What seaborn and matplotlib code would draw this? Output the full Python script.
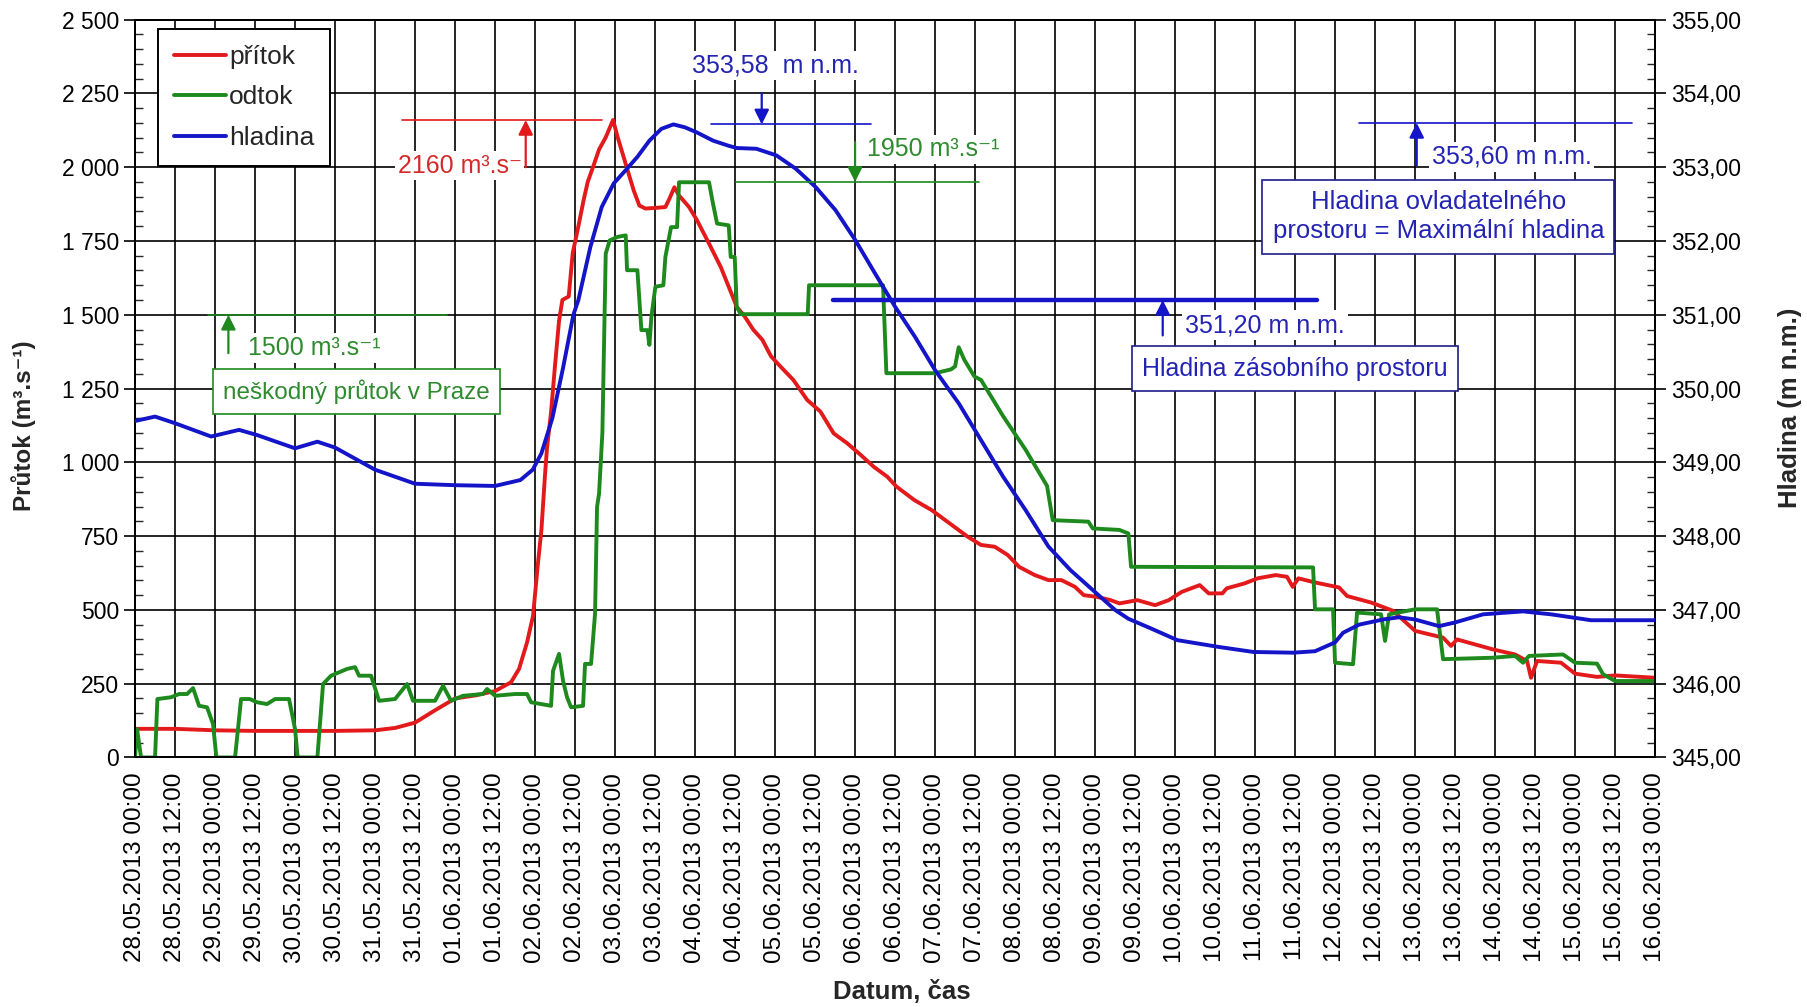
import matplotlib
matplotlib.use("Agg")
import matplotlib.pyplot as plt
from matplotlib.ticker import MultipleLocator, FuncFormatter
from matplotlib.lines import Line2D
import pandas as pd
import seaborn as sns

# ---------------- data (time in hours since 28.05.2013 00:00) ----------------
pritok_t = [0, 12, 24, 36, 48, 60, 72, 78, 84, 90, 96, 102, 108, 112.8, 115.2, 117.6, 119.4,
            120.8, 121.9, 123, 123.6, 124.8, 126, 127.2, 128.2, 130.1, 131.3, 133, 134.6, 135.8,
            137.5, 139.2, 141.2, 143.4, 144.8, 147.2, 149.6, 151.3, 153.1, 156, 159.1, 160.3,
            161.8, 163.2, 166.2, 168.6, 172.2, 175.7, 178.1, 180.5, 182.9, 185.5, 188.2, 190.8,
            193.6, 197.5, 201.6, 205.6, 209.6, 213.6, 217.7, 221.6, 225.7, 228.4, 233.8, 239,
            244.4, 249.8, 253.8, 257.9, 261.8, 265.2, 269.9, 274, 277.9, 282, 284.6, 288.6,
            292.7, 295.3, 300.7, 306, 310.1, 314, 319.4, 322.1, 326.2, 327.5, 332.9, 336.8,
            342.2, 345.6, 347.3, 349, 354, 361.2, 363.6, 370.8, 377.4, 384, 392.4, 394.8, 396.6,
            402, 407.4, 414, 417.6, 418.8, 420.6, 427.8, 432, 438.6, 444, 456]
pritok_q = [97, 97, 92, 90, 90, 90, 92, 100, 118, 160, 200, 210, 225, 255, 300, 390, 480,
            650, 770, 960, 1050, 1170, 1330, 1480, 1550, 1562, 1709, 1800, 1890, 1950,
            2004, 2060, 2101, 2160, 2101, 2011, 1921, 1870, 1860, 1862, 1865, 1893,
            1932, 1904, 1865, 1820, 1741, 1662, 1595, 1527, 1494, 1449, 1415, 1359,
            1325, 1279, 1212, 1172, 1098, 1065, 1025, 985, 951, 918, 872, 838,
            793, 748, 720, 714, 686, 646, 618, 601, 601, 578, 550, 544,
            533, 522, 533, 516, 533, 561, 584, 556, 556, 573, 590, 607,
            618, 612, 578, 607, 593, 576, 547, 525, 497, 429, 406, 378, 400,
            383, 366, 349, 327, 270, 327, 321, 284, 273, 278, 270]

odtok_t = [0, 0.6, 1.8, 6, 6.7, 10.8, 13.2, 15.6, 17.4, 19.2, 21.6, 23.4, 24.4, 30, 31.8, 34.4,
           36.6, 39.6, 42, 46.2, 48, 48.8, 54.7, 56.4, 58.8, 63.6, 66, 67.2, 70.8, 73.2, 78,
           81.6, 83.4, 90, 92.4, 94.8, 98.4, 104.4, 105.6, 108, 114, 117.6, 118.8, 124.8,
           125.4, 127.2, 128.4, 129.6, 130.8, 134.4, 135, 136.8, 138, 138.6, 139.2, 140.2,
           141.2, 142.4, 144.8, 147.2, 147.6, 150.7, 151.3, 151.9, 153.7, 154.3, 154.9,
           156.1, 158.5, 159.1, 160.8, 162.6, 163.2, 172.2, 173.2, 174.6, 178.1, 178.7,
           179.9, 180.5, 181.7, 201.8, 202.2, 224.4, 225.4, 240, 244.8, 246, 247.1, 248.8,
           251.8, 253.8, 260.5, 267.2, 273.6, 275.3, 286, 287.3, 295.3, 298, 298.8, 353.4,
           354, 359.4, 360, 365.4, 366.6, 373.8, 375, 376.2, 384, 390.6, 392.4, 407.4, 414,
           416.4, 418.2, 428.4, 432, 438.6, 440.4, 444, 456]
odtok_q = [0, 96, 0, 0, 198, 204, 215, 215, 235, 175, 170, 113, 0, 0, 198, 198,
           187, 181, 198, 198, 96, 0, 0, 249, 277, 300, 306, 277, 277, 192, 198,
           249, 192, 192, 243, 192, 209, 215, 232, 209, 215, 215, 187, 175,
           294, 351, 260, 204, 170, 175, 317, 317, 487, 849, 894, 1100,
           1707, 1752, 1764, 1769, 1651, 1651, 1550, 1448, 1448, 1398, 1493,
           1595, 1600, 1696, 1797, 1797, 1949, 1949, 1887, 1809, 1803, 1696,
           1696, 1527, 1502, 1502, 1600, 1600, 1302, 1302, 1315, 1325, 1390, 1347,
           1291, 1279, 1155, 1042, 920, 804, 799, 776, 771, 759, 646, 644,
           502, 502, 321, 316, 491, 485, 395, 485, 502, 502, 333, 338, 344,
           321, 344, 349, 321, 318, 282, 259, 259]

hladina_t = [0, 6, 12, 22.8, 31.2, 36.6, 48, 54.7, 60, 72, 84, 96, 108, 115.6, 119.3, 121.9,
             125.2, 128.4, 131.5, 133, 136.6, 140, 143.6, 147.2, 150.7, 154.3, 157.9, 161.5,
             165, 168.6, 173.4, 178.1, 180.5, 186.4, 192.4, 198.2, 204.2, 210.1, 216.1, 222,
             228, 234, 240, 247.1, 253.8, 260.5, 267.2, 274, 280.6, 287.3, 294, 298, 304.7,
             312.7, 324.8, 335.5, 347.4, 354, 360, 362.4, 367.2, 374.4, 379.2, 384, 391.2,
             396, 404.4, 416.4, 424.8, 436.8, 456]
hladina_h = [349.56, 349.62, 349.53, 349.35, 349.44, 349.37, 349.19, 349.28, 349.20, 348.90,
             348.71, 348.69, 348.68, 348.76, 348.90, 349.12, 349.60, 350.28, 351.00, 351.20,
             351.92, 352.46, 352.78, 352.96, 353.14, 353.36, 353.52, 353.58, 353.54, 353.47,
             353.36, 353.29, 353.26, 353.25, 353.16, 352.98, 352.73, 352.42, 352.01, 351.56,
             351.11, 350.70, 350.25, 349.80, 349.30, 348.80, 348.35, 347.86, 347.54, 347.27,
             347.00, 346.88, 346.75, 346.59, 346.50, 346.43, 346.42, 346.44, 346.56, 346.69,
             346.80, 346.87, 346.90, 346.87, 346.78, 346.83, 346.94, 346.98, 346.94, 346.86,
             346.86]

series_names = ["přítok", "odtok", "hladina"]
tick_labels = list(pd.date_range("2013-05-28 00:00", periods=39, freq="12h").strftime("%d.%m.%Y %H:%M"))

q_pritok_max = 2160
q_odtok_max = 1950
q_neskodny = 1500
h_max_reached = 353.58
h_zasobni = 351.20
h_ovladatelny = 353.60

# ---------------- style ----------------
sns.set_theme(style="white")
FONT = ["Liberation Sans", "DejaVu Sans"]
plt.rcParams["font.family"] = FONT
plt.rcParams["axes.edgecolor"] = "black"

RED = "#e31a1c"
GREEN = "#1e8a1e"
BLUE = "#1414c8"
RED_T = "#d42a2a"
GREEN_T = "#2e8b2e"
BLUE_T = "#2424b4"

fig = plt.figure(figsize=(18.08, 10.07), dpi=100)
ax = fig.add_axes([0.0747, 0.2478, 0.8407, 0.7327])
ax2 = ax.twinx()

df_p = pd.DataFrame({"t": pritok_t, "q": pritok_q})
df_o = pd.DataFrame({"t": odtok_t, "q": odtok_q})
df_h = pd.DataFrame({"t": hladina_t, "h": hladina_h})

sns.lineplot(data=df_p, x="t", y="q", ax=ax, color=RED, lw=2.8, estimator=None, sort=False, zorder=3)
sns.lineplot(data=df_o, x="t", y="q", ax=ax, color=GREEN, lw=2.8, estimator=None, sort=False, zorder=3)
sns.lineplot(data=df_h, x="t", y="h", ax=ax2, color=BLUE, lw=2.8, estimator=None, sort=False, zorder=3)

# axes limits & ticks
ax.set_xlim(0, 456)
ax.set_ylim(0, 2500)
ax2.set_ylim(345, 355)
ax.set_xticks(range(0, 457, 12))
ax.set_xticklabels(tick_labels, rotation=90, fontsize=17.5, va="top")
ax.yaxis.set_major_locator(MultipleLocator(250))
ax.yaxis.set_minor_locator(MultipleLocator(50))
ax.yaxis.set_major_formatter(FuncFormatter(lambda v, p: f"{v:,.0f}".replace(",", " ")))
ax2.yaxis.set_major_locator(MultipleLocator(1))
ax2.yaxis.set_minor_locator(MultipleLocator(0.2))
ax2.yaxis.set_major_formatter(FuncFormatter(lambda v, p: f"{v:.2f}".replace(".", ",")))

ax.tick_params(axis="y", which="major", direction="out", length=8, width=1.2, labelsize=16.5, colors="black")
ax.tick_params(axis="y", which="minor", direction="in", length=6, width=1.0, left=True)
ax.tick_params(axis="x", which="major", direction="out", length=7, width=1.2, colors="black", pad=4)
ax2.tick_params(axis="y", which="major", direction="out", length=8, width=1.2, labelsize=16.5, colors="black")
ax2.tick_params(axis="y", which="minor", direction="in", length=6, width=1.0, right=True)

ax.grid(True, which="major", color="black", lw=1.2)
ax2.grid(False)
for a in (ax, ax2):
    for s in a.spines.values():
        s.set_color("black")
        s.set_linewidth(1.4)
ax.set_xlabel("")
ax.set_ylabel("")
ax2.set_ylabel("")

fig.text(0.013, 0.577, "Průtok (m³.s⁻¹)", rotation=90, ha="center", va="center",
         fontsize=17.5, fontweight="bold", family=FONT)
fig.text(0.99, 0.595, "Hladina (m n.m.)", rotation=90, ha="center", va="center",
         fontsize=18.5, fontweight="bold", family=FONT)
fig.text(0.499, 0.015, "Datum, čas", ha="center", va="center",
         fontsize=18.5, fontweight="bold", family=FONT)

# ---------------- annotations ----------------
T = ax.transData
arrow_kw = dict(arrowstyle="-|>", lw=1.6, mutation_scale=22, shrinkA=0, shrinkB=0)
box_txt = dict(facecolor="white", edgecolor="none", pad=2)
FS = 18

# 2160 inflow peak
ax2.plot([80, 140], [q_pritok_max, q_pritok_max], color=RED, lw=1.2, transform=T, zorder=4)
ax2.annotate("", xy=(117.2, q_pritok_max), xytext=(117.2, 2000), xycoords=T, textcoords=T,
             arrowprops=dict(color=RED, **arrow_kw), zorder=4)
ax2.text(116, 2005, "2160 m³.s⁻", color=RED_T, fontsize=FS, ha="right", va="center",
         transform=T, bbox=box_txt, zorder=5)

# 1950 outflow max
ax2.plot([180.2, 253.2], [q_odtok_max, q_odtok_max], color=GREEN, lw=1.2, transform=T, zorder=4)
ax2.annotate("", xy=(216, q_odtok_max), xytext=(216, 2085), xycoords=T, textcoords=T,
             arrowprops=dict(color=GREEN, **arrow_kw), zorder=4)
ax2.text(219.5, 2060, "1950 m³.s⁻¹", color=GREEN_T, fontsize=FS, ha="left", va="center",
         transform=T, bbox=box_txt, zorder=5)

# 353,58 max level
ax2.plot([172.8, 220.8], [h_max_reached, h_max_reached], color=BLUE, lw=1.2, zorder=4)
ax2.annotate("", xy=(188, h_max_reached), xytext=(188, 354.0), arrowprops=dict(color=BLUE, **arrow_kw), zorder=4)
ax2.text(192, 354.38, "353,58  m n.m.", color=BLUE_T, fontsize=FS, ha="center", va="center",
         bbox=box_txt, zorder=5)

# 1500 harmless flow
ax2.plot([21.8, 93.5], [q_neskodny, q_neskodny], color=GREEN, lw=1.2, transform=T, zorder=4)
ax2.annotate("", xy=(28, q_neskodny), xytext=(28, 1370), xycoords=T, textcoords=T,
             arrowprops=dict(color=GREEN, **arrow_kw), zorder=4)
ax2.text(34, 1388, "1500 m³.s⁻¹", color=GREEN_T, fontsize=FS, ha="left", va="center",
         transform=T, bbox=box_txt, zorder=5)
ax2.text(66.5, 1240, "neškodný průtok v Praze", color=GREEN_T, fontsize=17.5, ha="center", va="center",
         transform=T, zorder=5,
         bbox=dict(facecolor="white", edgecolor=GREEN, lw=1.2, boxstyle="square,pad=0.42"))

# 351,20 storage level
ax2.plot([209.4, 354.7], [h_zasobni, h_zasobni], color=BLUE, lw=3.2, zorder=4)
ax2.annotate("", xy=(308.3, h_zasobni), xytext=(308.3, 350.72), arrowprops=dict(color=BLUE, **arrow_kw), zorder=4)
ax2.text(315, 350.86, "351,20 m n.m.", color=BLUE_T, fontsize=FS, ha="left", va="center",
         bbox=box_txt, zorder=5)
ax2.text(348, 350.27, "Hladina zásobního prostoru", color=BLUE_T, fontsize=FS, ha="center", va="center",
         zorder=5, bbox=dict(facecolor="white", edgecolor="#1e1e8c", lw=1.2, boxstyle="square,pad=0.42"))

# 353,60 max controllable level
ax2.plot([367.2, 449.2], [h_ovladatelny, h_ovladatelny], color=BLUE, lw=1.2, zorder=4)
ax2.annotate("", xy=(384.5, h_ovladatelny), xytext=(384.5, 353.02), arrowprops=dict(color=BLUE, **arrow_kw), zorder=4)
ax2.text(389, 353.14, "353,60 m n.m.", color=BLUE_T, fontsize=FS, ha="left", va="center",
         bbox=box_txt, zorder=5)
ax2.text(391, 352.33, "Hladina ovladatelného\nprostoru = Maximální hladina", color=BLUE_T, fontsize=18.5,
         ha="center", va="center", linespacing=1.3, zorder=5,
         bbox=dict(facecolor="white", edgecolor="#1e1e8c", lw=1.2, boxstyle="square,pad=0.4"))

# legend
handles = [Line2D([0], [0], color=c, lw=2.8) for c in (RED, GREEN, BLUE)]
leg = ax2.legend(handles, series_names, loc="upper left", bbox_to_anchor=(0.015, 0.987),
                 fontsize=19, frameon=True, fancybox=False, framealpha=1, edgecolor="black",
                 handlelength=2.0, handletextpad=0.1, labelspacing=0.62, borderpad=0.6,
                 borderaxespad=0)
leg.get_frame().set_linewidth(1.4)
leg.set_zorder(10)

fig.savefig("out.png", dpi=100, facecolor="white")
